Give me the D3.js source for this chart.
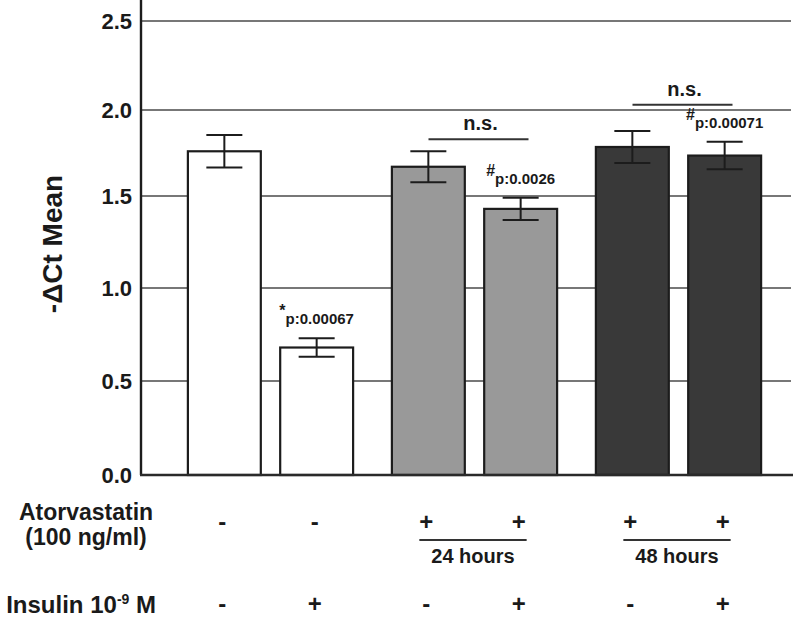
<!DOCTYPE html>
<html>
<head>
<meta charset="utf-8">
<script src="https://cdn.jsdelivr.net/npm/d3@7"></script>
<style>
  html, body { margin: 0; padding: 0; background: #fff; }
  svg { display: block; font-family: "Liberation Sans", Arial, sans-serif; font-weight: bold; }
</style>
</head>
<body>
<svg id="chart" width="793" height="619"></svg>
<script>
// ---------------- data ----------------
const groups = ["control", "24h", "48h"];
const barIds = ["c-", "c+", "24-", "24+", "48-", "48+"];
const barGroup = ["control", "control", "24h", "24h", "48h", "48h"];
const barSub = ["a", "b", "a", "b", "a", "b"];
const means = [1.76, 0.68, 1.67, 1.43, 1.785, 1.735];
const errors = [0.095, 0.05, 0.09, 0.06, 0.093, 0.08];
const fills = ["#ffffff", "#ffffff", "#999999", "#999999", "#393939", "#393939"];
const yTicks = [0, 0.5, 1.0, 1.5, 2.0, 2.5];
const annotations = [
  { bar: "c+", sym: "*", text: "p:0.00067" },
  { bar: "24+", sym: "#", text: "p:0.0026" },
  { bar: "48+", sym: "#", text: "p:0.00071" }
];
const nsBrackets = [
  { group: "24h", level: 1.83, text: "n.s." },
  { group: "48h", level: 2.03, text: "n.s." }
];
const atorvastatin = ["-", "-", "+", "+", "+", "+"];
const insulin = ["-", "+", "-", "+", "-", "+"];
const durations = [{ group: "24h", text: "24 hours" }, { group: "48h", text: "48 hours" }];

// ---------------- scales ----------------
const svg = d3.select("#chart");
const axisX = 141, baseY = 475;

// y positions of the printed tick labels (original axis is slightly non-uniform)
const y = d3.scaleLinear()
  .domain([0, 0.5, 1.0, 1.5, 2.0, 2.5, 2.62])
  .range([475, 381, 288, 196, 110, 21, 0]);

const xOuter = d3.scaleBand().domain(groups).range([168.5, 780.5]).padding(0);
const xInner = d3.scaleBand().domain(["a", "b"]).range([0, xOuter.bandwidth()])
  .paddingInner(0.21).paddingOuter(0.21);
const bw = xInner.bandwidth();
const bx = i => xOuter(barGroup[i]) + xInner(barSub[i]);
const bc = i => bx(i) + bw / 2;

// ---------------- grid ----------------
svg.append("g").selectAll("line").data(yTicks.filter(d => d > 0)).join("line")
  .attr("x1", axisX).attr("x2", 791)
  .attr("y1", d => y(d)).attr("y2", d => y(d))
  .attr("stroke", "#4a4a4a").attr("stroke-width", 1.3);

// ---------------- bars ----------------
svg.append("g").selectAll("rect").data(means).join("rect")
  .attr("x", (d, i) => bx(i)).attr("width", bw)
  .attr("y", d => y(d)).attr("height", d => y(0) - y(d))
  .attr("fill", (d, i) => fills[i])
  .attr("stroke", "#1c1c1c").attr("stroke-width", 2.2);

// error bars
const eb = svg.append("g").attr("stroke", "#1c1c1c").attr("stroke-width", 2);
means.forEach((m, i) => {
  const cx = bc(i);
  eb.append("line").attr("x1", cx).attr("x2", cx).attr("y1", y(m + errors[i])).attr("y2", y(m - errors[i]));
  eb.append("line").attr("x1", cx - 18).attr("x2", cx + 18).attr("y1", y(m + errors[i])).attr("y2", y(m + errors[i]));
  eb.append("line").attr("x1", cx - 18).attr("x2", cx + 18).attr("y1", y(m - errors[i])).attr("y2", y(m - errors[i]));
});

// ---------------- axes ----------------
svg.append("line").attr("x1", axisX).attr("x2", axisX).attr("y1", 0).attr("y2", baseY)
  .attr("stroke", "#1c1c1c").attr("stroke-width", 2.4);
svg.append("line").attr("x1", axisX - 1).attr("x2", 793).attr("y1", baseY).attr("y2", baseY)
  .attr("stroke", "#2a2a2a").attr("stroke-width", 2.4);

const yAxis = svg.append("g").attr("transform", `translate(${axisX},0)`)
  .call(d3.axisLeft(y).tickValues(yTicks).tickSize(0).tickPadding(9).tickFormat(d3.format(".1f")));
yAxis.select(".domain").remove();
yAxis.selectAll("text").attr("font-size", 22).attr("font-weight", "bold")
  .attr("font-family", "Liberation Sans, Arial, sans-serif").attr("fill", "#1a1a1a");

svg.append("text").attr("transform", "translate(62,244) rotate(-90)")
  .attr("text-anchor", "middle").attr("font-size", 28).attr("fill", "#1a1a1a")
  .text("-\u0394Ct Mean");

// ---------------- annotations ----------------
annotations.forEach(a => {
  const i = barIds.indexOf(a.bar);
  const t = svg.append("text").attr("x", bc(i)).attr("y", y(means[i] + errors[i]) - 14)
    .attr("text-anchor", "middle").attr("font-size", 15).attr("fill", "#1a1a1a");
  t.append("tspan").attr("font-size", 16).attr("dy", -8).text(a.sym);
  t.append("tspan").attr("dy", 8).text(a.text);
});

nsBrackets.forEach(b => {
  const cx = xOuter(b.group) + xOuter.bandwidth() / 2 + 4;
  svg.append("line").attr("x1", cx - 50).attr("x2", cx + 50)
    .attr("y1", y(b.level)).attr("y2", y(b.level))
    .attr("stroke", "#333").attr("stroke-width", 2);
  svg.append("text").attr("x", cx + 2).attr("y", y(b.level) - 9)
    .attr("text-anchor", "middle").attr("font-size", 20).attr("fill", "#1a1a1a").text(b.text);
});

// ---------------- treatment table ----------------
const lab = svg.append("g").attr("fill", "#1a1a1a");
lab.append("text").attr("x", 86).attr("y", 520).attr("text-anchor", "middle").attr("font-size", 23).text("Atorvastatin");
lab.append("text").attr("x", 86).attr("y", 545).attr("text-anchor", "middle").attr("font-size", 23).text("(100 ng/ml)");
const ins = lab.append("text").attr("x", 156).attr("y", 613).attr("text-anchor", "end").attr("font-size", 24);
ins.append("tspan").text("Insulin 10");
ins.append("tspan").attr("font-size", 14).attr("dy", -9).text("-9");
ins.append("tspan").attr("dy", 9).text(" M");

lab.selectAll("text.ator").data(atorvastatin).join("text").attr("class", "ator")
  .attr("x", (d, i) => bc(i) - 2).attr("y", 530).attr("text-anchor", "middle")
  .attr("font-size", 24).text(d => d);
lab.selectAll("text.ins").data(insulin).join("text").attr("class", "ins")
  .attr("x", (d, i) => bc(i) - 2).attr("y", 612).attr("text-anchor", "middle")
  .attr("font-size", 24).text(d => d);

durations.forEach(dd => {
  const i0 = barGroup.indexOf(dd.group);
  const x1 = bc(i0) - 9, x2 = bc(i0 + 1) + 6;
  lab.append("line").attr("x1", x1).attr("x2", x2).attr("y1", 540).attr("y2", 540)
    .attr("stroke", "#333").attr("stroke-width", 1.8);
  lab.append("text").attr("x", (x1 + x2) / 2).attr("y", 563).attr("text-anchor", "middle")
    .attr("font-size", 20).text(dd.text);
});
</script>
</body>
</html>
